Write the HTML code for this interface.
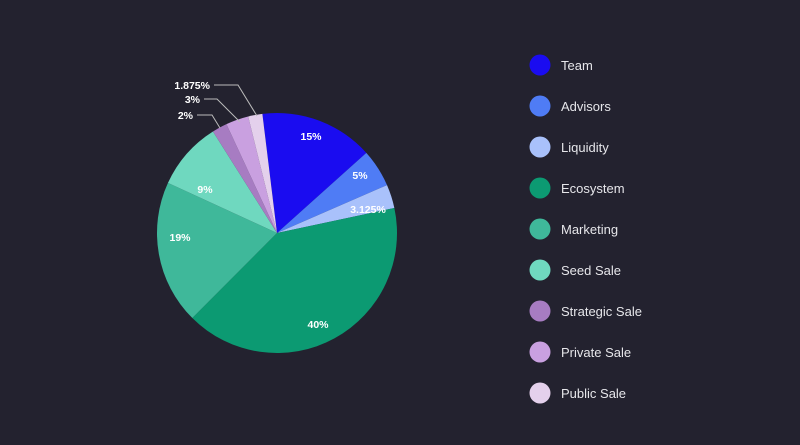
<!DOCTYPE html>
<html><head><meta charset="utf-8"><style>
html,body{margin:0;padding:0;background:#23222f;}
svg{display:block}
text{font-family:"Liberation Sans",sans-serif;}
.b text{font-weight:bold;}
.lg{font-weight:normal;}
</style></head><body>
<svg id="s" width="800" height="445" viewBox="0 0 800 445">
<rect width="800" height="445" fill="#23222f"/>
<g id="pie"></g>
<g class="b" fill="#fff" font-size="10.5" text-anchor="middle">
<text x="311" y="140">15%</text>
<text x="360" y="179">5%</text>
<text x="368" y="213">3.125%</text>
<text x="318" y="328">40%</text>
<text x="180" y="241">19%</text>
<text x="205" y="193">9%</text>
</g>
<g class="b" fill="#fff" font-size="10.5" text-anchor="end">
<text x="210" y="89">1.875%</text>
<text x="200" y="103">3%</text>
<text x="193" y="119">2%</text>
</g>
<g stroke="#bbb" stroke-width="1" fill="none">
<polyline points="214,85 238,85 257,116"/>
<polyline points="204,99 217,99 240,122"/>
<polyline points="197,115 212,115 220,128"/>
</g>
<g id="leg" font-size="13" fill="#e6e6ea"></g>
</svg>
<script>
var d=[[15,"#1a0cf0","Team"],[5,"#4f7cf5","Advisors"],[3.125,"#a9c1fb","Liquidity"],[40,"#0c9a72","Ecosystem"],[19,"#3fb89a","Marketing"],[9,"#6fd8bf","Seed Sale"],[2,"#a77cc2","Strategic Sale"],[3,"#c9a0e0","Private Sale"],[1.875,"#e4d0ec","Public Sale"]];
var cx=277,cy=233,r=120,a=-7,ns="http://www.w3.org/2000/svg",p=document.getElementById("pie"),L=document.getElementById("leg");
function pt(g){var t=g*Math.PI/180;return [cx+r*Math.sin(t),cy-r*Math.cos(t)];}
d.forEach(function(e,i){var s=e[0]*360/98,b=a+s,p0=pt(a),p1=pt(b);
var el=document.createElementNS(ns,"path");
el.setAttribute("d","M"+cx+","+cy+"L"+p0[0]+","+p0[1]+"A"+r+","+r+" 0 "+(s>180?1:0)+" 1 "+p1[0]+","+p1[1]+"Z");
el.setAttribute("fill",e[1]);p.appendChild(el);a=b;
var y=65+i*41;var c=document.createElementNS(ns,"circle");c.setAttribute("cx",540);c.setAttribute("cy",y);c.setAttribute("r",10.5);c.setAttribute("fill",e[1]);L.appendChild(c);
var t=document.createElementNS(ns,"text");t.setAttribute("x",561);t.setAttribute("y",y+5);t.setAttribute("class","lg");t.textContent=e[2];L.appendChild(t);});
</script>
</body></html>
